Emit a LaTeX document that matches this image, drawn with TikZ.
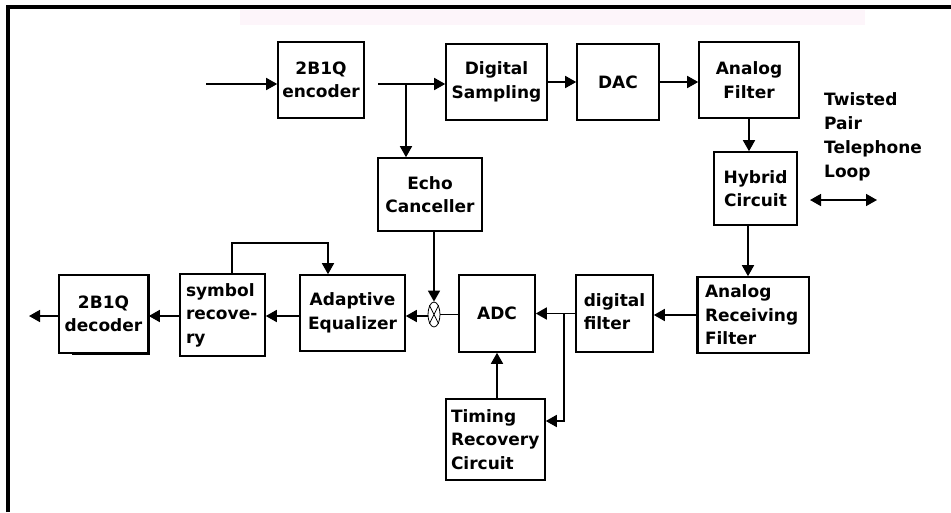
\documentclass[tikz,border=0pt]{standalone}
\usepackage{fontspec}
\setmainfont{DejaVu Sans}
\usetikzlibrary{arrows.meta,shapes.geometric}
\definecolor{bandpink}{RGB}{253,245,250}
\begin{document}
\begin{tikzpicture}[x=1pt,y=-1pt,
  blk/.style={draw, line width=1.6pt, inner sep=0pt, align=center,
    font=\bfseries\fontsize{17}{23.5}\selectfont},
  lblk/.style={blk, align=left},
  wire/.style={line width=1.6pt},
  arr/.style={wire, -{Triangle[length=11pt,width=12pt]}},
  darr/.style={wire, {Triangle[length=11pt,width=12pt]}-{Triangle[length=11pt,width=12pt]}},
  lbl/.style={inner sep=0pt, align=left, font=\bfseries\fontsize{17}{24}\selectfont},
]
\useasboundingbox (0,0) rectangle (951,512);
\fill[white] (0,0) rectangle (951,512);
% frame
\fill[bandpink] (240,10) rectangle (865,25);
\draw[line width=4pt] (8,512) -- (8,7) -- (951,7);

% transmit path
\node[blk, minimum width=86pt, minimum height=76pt] (enc) at (321,80) {2B1Q\\encoder};
\node[blk, minimum width=101pt, minimum height=76pt] (dsm) at (496.5,82) {Digital\\Sampling};
\node[blk, minimum width=82pt, minimum height=76pt] (dac) at (618,82) {DAC};
\node[blk, minimum width=100pt, minimum height=76pt] (afl) at (749,80) {Analog\\Filter};
\node[blk, minimum width=83pt, minimum height=73pt] (hyb) at (755.5,188.5) {Hybrid\\Circuit};
\node[blk, minimum width=104pt, minimum height=73pt] (ech) at (430,194.5) {Echo\\Canceller};

% receive path
\node[lblk, inner xsep=7pt, text width=97pt, minimum height=76pt] (arf) at (753.5,315) {Analog\\Receiving\\Filter};
\node[blk, minimum width=77pt, minimum height=77pt] (dfl) at (614.5,313.5) {\begin{tabular}{@{}l@{}}digital\\filter\end{tabular}};
\node[blk, minimum width=76pt, minimum height=77pt] (adc) at (497,313.5) {ADC};
\node[lblk, inner xsep=5pt, text width=89pt, minimum height=81pt] (trc) at (495.5,439.5) {Timing\\Recovery\\Circuit};
\node[blk, minimum width=105pt, minimum height=76pt] (aeq) at (352.5,313) {Adaptive\\Equalizer};
\node[lblk, inner xsep=6pt, text width=73pt, minimum height=82pt] (sym) at (222.5,315) {symbol\\recove-\\ry};
\node[blk, minimum width=89pt, minimum height=78pt] (dec) at (103.5,314) {2B1Q\\decoder};
\draw[line width=3pt] ([xshift=14pt]dec.south west) -- (dec.south east) -- (dec.north east);
\draw[line width=3pt] (arf.north west) -- (arf.south west);

% summing junction
\node[draw, ellipse, line width=0.8pt, minimum width=12pt, minimum height=25pt, inner sep=0pt] (sum) at (434,314.5) {};
\draw[line width=0.8pt] (sum.north west) -- (sum.south east) (sum.north east) -- (sum.south west);

\node[lbl, anchor=north west] (tp) at (824,92) {Twisted\\Pair\\Telephone\\Loop};

% connection points
\coordinate (in) at (206,84);
\coordinate (encout) at (378,84);
\coordinate (br1) at (406,84);
\coordinate (br2) at (564,313.5);
\coordinate (tlev) at (0,421);
\coordinate (rowL) at (0,316);
\coordinate (fb1) at (232,243);
\coordinate (fb2) at (328,243);
\coordinate (out) at (29,316);
\coordinate (tp1) at (810,200);
\coordinate (tp2) at (877,200);

% connectors
\draw[arr] (in) -- (in -| enc.west);
\draw[arr] (encout) -- (encout -| dsm.west);
\draw[arr] (br1) -- (br1 |- ech.north);
\draw[arr] (dsm.east) -- (dac.west);
\draw[arr] (dac.east) -- (dac.east -| afl.west);
\draw[arr] (afl.south) -- (afl.south |- hyb.north);
\draw[arr] ([xshift=-7.5pt]hyb.south) -- ([xshift=-7.5pt]hyb.south |- arf.north);
\draw[arr] (arf.west) -- (arf.west -| dfl.east);
\draw[arr] (dfl.west) -- (dfl.west -| adc.east);
\draw[arr] (br2) |- (trc.east |- tlev);
\draw[arr] (adc.south |- trc.north) -- (adc.south);
\draw[wire] (adc.west |- sum.east) -- (sum.east);
\draw[arr] (sum.north |- ech.south) -- (sum.north);
\draw[arr] (sum.west |- rowL) -- (aeq.east |- rowL);
\draw[arr] (aeq.west |- rowL) -- (sym.east |- rowL);
\draw[arr] (fb1 |- sym.north) -- (fb1) -- (fb2) -- (fb2 |- aeq.north);
\draw[arr] (sym.west |- rowL) -- (dec.east |- rowL);
\draw[arr] (dec.west |- rowL) -- (out);
\draw[darr] (tp1) -- (tp2);
\end{tikzpicture}
\end{document}
